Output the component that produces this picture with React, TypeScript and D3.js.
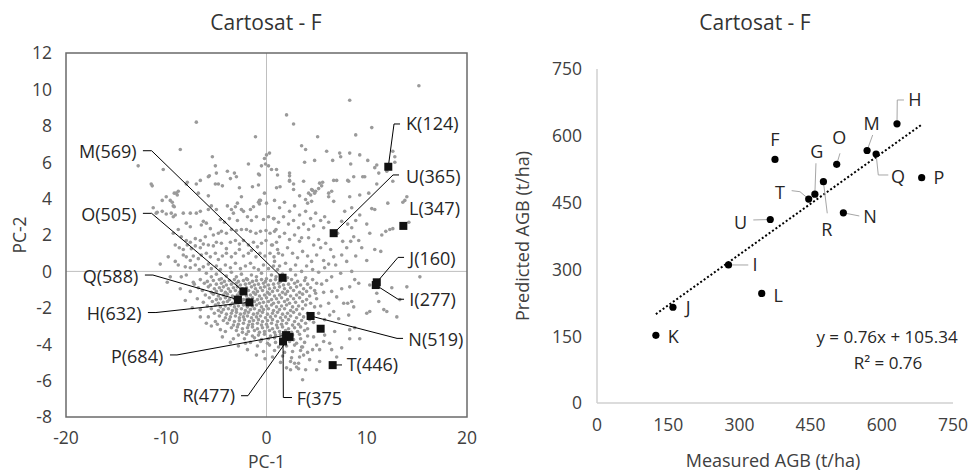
import React, { useEffect, useRef } from "react";
import * as d3 from "d3";

// PC-1 / PC-2 scores of all pixels (grey cloud)
const pcaCloud: [number, number][] = [
  [15.2,10.2],[8.3,9.4],[2.0,8.6],[2.7,8.1],[-7.0,8.2],[10.5,7.9],[8.9,7.5],[-1.1,7.4],[5.1,7.4],
  [-8.6,6.7],[3.5,6.9],[3.9,6.7],[-12.8,5.8],[0.0,6.4],[0.3,6.5],[-0.2,6.2],[-0.1,5.9],[-1.8,5.9],[-5.4,6.3],[-5.1,5.8],
  [3.8,6.0],[4.8,6.1],[6.0,6.6],[6.6,6.1],[7.3,6.5],[7.4,6.3],[8.3,6.5],[8.4,5.9],[9.3,6.4],[10.1,6.1],[11.0,5.85],[10.8,5.7],
  [12.6,6.6],[12.8,6.3],[12.8,6.0],[-10.3,5.6],[0.5,5.6],[0.2,5.8],[1.0,5.6],[1.1,5.3],[2.3,5.4],[2.3,5.0],[-5.0,5.4],[-3.9,5.5],
  [-3.2,5.4],[-0.8,5.35],[-5.7,5.25],[-3.6,5.1],[-0.5,5.8],[-0.7,5.3],[11.2,5.4],[8.7,5.2],[9.8,5.2],[12.0,5.5],[5.6,4.9],[5.3,4.85],
  [7.0,5.0],[8.1,5.0],
  [-11.5,4.8],[-9.2,4.3],[-8.9,4.2],[-8.0,4.8],[-6.6,5.0],[-5.8,5.2],[-5.1,4.8],[-0.8,4.75],[-0.2,4.3],[1.0,4.6],[2.7,4.8],[3.7,4.95],
  [4.5,4.5],[4.9,4.4],[6.2,4.3],[6.5,4.4],[6.7,5.0],[8.2,4.95],[9.6,5.2],[11.0,4.8],[12.6,4.95],[14.0,4.1],[13.8,3.9],
  [-10.0,4.1],[-9.6,3.9],[-9.0,4.3],[-9.4,3.8],[-9.3,3.6],[-11.4,4.7],[-7.9,4.9],[-7.0,4.8],[-3.0,5.2],[-4.8,4.8],[-4.4,4.7],
  [-2.7,4.6],[-2.5,4.1],[-1.4,4.65],[-0.7,3.9],[-0.7,3.7],[-8.8,4.4],[-6.8,4.3],[-5.8,4.15],[-10.4,3.9],
  [1.35,4.65],[2.7,4.5],[3.3,4.15],[4.2,4.3],[4.4,4.2],[4.6,4.45],[4.8,4.3],[5.2,4.55],[5.5,4.7],[3.9,3.95],[4.1,3.75],[4.5,3.85],
  [6.2,4.1],[6.7,3.85],[8.3,4.1],[9.3,4.2],[10.2,4.3],[10.5,3.45],[10.8,3.4],[12.1,3.75],[13.6,3.8],[2.3,5.25],[2.3,4.95],
  [-11.3,3.5],[-10.9,3.25],[-10.4,3.3],[-10.0,3.15],[-9.5,3.2],[-9.3,3.0],[-9.1,3.1],[-9.2,3.55],[-11.0,3.2],[-8.3,3.2],[-7.6,3.2],
  [-7.0,3.2],[-6.6,3.3],[-5.8,3.4],[-5.5,3.6],[-5.0,3.4],[-3.9,3.6],[-3.5,3.4],[-3.1,3.55],[-2.9,3.75],[-2.5,3.4],[-2.3,3.3],
  [-1.6,3.4],[-1.3,3.55],[-0.8,3.8],[-0.6,3.9],[0.0,3.75],[-1.9,3.0],[-1.5,2.8],[-1.0,3.0],[-0.3,2.85],[0.2,3.0],[0.75,2.9],
  [-3.3,3.2],[-3.7,2.9],[-2.9,2.8],[-4.6,2.85],[-4.2,2.7],[-6.3,2.75],[-6.5,2.55],[-6.0,2.65],[-5.6,2.35],[-8.0,2.65],[-7.6,2.45],
  [0.8,3.9],[1.3,3.5],[1.8,3.8],[2.3,3.3],[2.8,3.6],[3.3,3.1],[3.9,3.3],[4.4,2.9],[4.9,3.2],[5.4,2.8],[5.8,3.0],[0.7,2.9],[1.2,2.7],
  [1.7,3.0],[2.2,2.6],[2.7,2.8],[3.2,2.4],[3.7,2.6],[4.2,2.3],[4.7,2.5],[5.7,2.4],[6.2,2.7],[8.1,2.6],[8.5,2.4],[8.9,2.8],[7.5,2.75],
  [7.8,3.3],[8.5,3.5],[9.3,3.1],[10.0,2.6],[14.2,2.7],[12.6,2.35],[12.3,2.3],
  [-8.8,2.3],[-9.3,2.1],[-8.5,1.9],[-8.0,1.7],[-7.6,1.6],[-7.1,1.8],[-6.6,1.7],[-6.1,1.9],[-5.3,2.0],[-4.8,2.1],[-4.5,2.2],[-4.0,2.1],
  [-3.5,2.3],[-3.0,2.25],[-2.5,2.3],[-2.0,2.3],[-1.6,2.2],[-1.05,2.1],[-0.6,2.2],[-0.05,2.25],[0.35,2.1],[0.95,2.3],
  [-9.1,1.45],[-8.7,1.3],[-8.3,1.2],[-7.9,1.45],[-7.5,1.25],[-7.1,1.4],[-6.6,1.3],[-6.3,1.5],[-5.8,1.45],[-5.3,1.4],[-5.0,1.6],
  [-4.5,1.55],[-4.0,1.25],[-3.6,1.6],[-3.1,1.7],[-2.7,1.5],[-2.3,1.7],[-1.8,1.45],[-1.3,1.6],[-0.9,1.35],[-0.5,1.55],[-0.05,1.7],
  [0.5,1.45],[1.0,1.6],
  [-9.8,0.8],[-9.1,0.55],[-8.8,0.35],[-8.3,0.9],[-8.0,0.8],[-7.6,0.6],[-7.3,0.85],[-6.8,0.7],[-6.5,0.9],[-6.0,1.0],[-5.6,0.8],
  [-5.1,1.0],[-4.8,0.65],[-4.4,0.85],[-4.0,1.0],[-3.5,0.8],[-3.1,1.0],[-2.7,1.2],[-2.3,0.85],[-1.8,1.0],[-1.5,1.15],[-1.05,0.8],
  [-0.65,1.0],[-0.15,0.85],[0.35,1.0],[0.75,0.8],[1.2,1.0],
  [0.8,2.2],[1.3,1.9],[1.8,2.1],[2.3,1.75],[2.8,2.0],[3.3,1.65],[3.5,1.85],[4.2,1.85],[4.7,1.45],[5.2,1.75],[5.4,1.3],[5.9,1.55],
  [6.4,1.2],[0.6,1.45],[1.1,1.2],[1.6,0.9],[2.1,1.3],[2.6,1.0],[3.1,0.75],[3.6,1.1],[4.1,0.85],[4.5,0.55],[5.0,0.9],[5.7,0.6],
  [6.2,0.4],[6.7,0.8],[0.8,0.55],[1.9,0.45],[2.9,0.35],[4.0,0.3],[5.8,0.2],[8.7,1.9],[9.2,1.7],[8.4,1.65],[8.0,1.3],[9.5,1.3],
  [8.9,0.85],[8.0,0.55],[7.5,0.9],[7.6,1.65],[7.1,2.1],[10.3,2.1],[6.9,0.35],[11.5,2.0],[11.9,2.2],[11.4,1.1],[10.0,0.6],[10.8,1.2],
  [-8.1,0.25],[-7.6,0.2],[-7.1,0.35],[-6.7,0.1],[-6.3,0.25],[-5.8,0.4],[-5.5,0.15],[-5.0,0.3],[-4.6,0.1],[-4.1,0.35],[-3.6,0.2],
  [-3.1,0.45],[-2.6,0.15],[-2.1,0.3],[-1.6,0.45],[-1.25,0.2],[-0.8,0.1],[-0.3,0.35],[0.2,0.15],[0.7,0.3],[1.1,0.1],
  [-8.5,-0.3],[-8.0,-0.2],[-6.0,-0.1],[-5.5,-0.3],[-5.0,-0.15],[-4.5,-0.4],[-4.0,-0.25],[-3.5,-0.05],[-3.0,-0.3],[-2.5,-0.15],
  [-2.0,-0.4],[-1.5,-0.2],[-1.0,-0.3],[-0.5,-0.1],[0.0,-0.4],[0.5,-0.2],[0.95,-0.3],
  [1.3,0.3],[2.4,0.1],[3.5,0.0],[4.6,0.1],[5.2,-0.05],[1.6,-0.15],[2.1,-0.35],[2.9,-0.2],[3.9,-0.35],[6.5,-0.3],[7.4,-0.1],[8.5,0.0],
  [9.2,-0.65],[8.8,-0.45],[15.3,-0.3],[10.3,-0.75],[-10.6,0.4],[-9.9,-0.6],[-9.6,-0.3],[-8.6,-0.95],[-7.3,-0.6],[-8.1,-1.6],[-7.4,-2.0],
  [-6.6,-0.45],[-5.9,-0.55],[-5.3,-0.5],[-4.7,-0.45],[-4.2,-0.55],[-3.7,-0.5],[-3.2,-0.45],[-2.8,-0.55],[-2.3,-0.5],[-1.9,-0.45],
  [-1.4,-0.55],[-1.0,-0.5],[-0.5,-0.45],[-0.1,-0.55],[0.4,-0.5],[0.9,-0.45],[1.4,-0.55],[1.9,-0.5],[2.5,-0.45],[3.1,-0.55],[3.8,-0.5],[4.6,-0.45],
  [-7.2,-0.7],[-6.2,-0.65],[-5.6,-0.75],[-5.0,-0.7],[-4.5,-0.65],[-4.0,-0.75],[-3.5,-0.7],[-3.0,-0.65],[-2.6,-0.75],[-2.1,-0.7],
  [-1.7,-0.65],[-1.2,-0.75],[-0.8,-0.7],[-0.3,-0.65],[0.2,-0.75],[0.7,-0.7],[1.2,-0.65],[1.7,-0.75],[2.2,-0.7],[2.8,-0.65],[3.4,-0.75],[4.1,-0.7],[5.0,-0.65],
  [-6.8,-0.9],[-5.8,-0.85],[-5.2,-0.95],[-4.7,-0.9],[-4.3,-0.85],[-3.8,-0.95],[-3.3,-0.9],[-2.9,-0.85],[-2.4,-0.95],[-2.0,-0.9],
  [-1.5,-0.85],[-1.1,-0.95],[-0.6,-0.9],[-0.2,-0.85],[0.3,-0.95],[0.8,-0.9],[1.3,-0.85],[1.8,-0.95],[2.4,-0.9],[3.0,-0.85],[3.7,-0.95],[4.4,-0.9],
  [-7.6,-1.1],[-6.4,-1.05],[-5.5,-1.15],[-5.0,-1.1],[-4.5,-1.05],[-4.1,-1.15],[-3.6,-1.1],[-3.1,-1.05],[-2.7,-1.15],[-2.2,-1.1],
  [-1.8,-1.05],[-1.3,-1.15],[-0.9,-1.1],[-0.4,-1.05],[0.1,-1.15],[0.6,-1.1],[1.1,-1.05],[1.6,-1.15],[2.1,-1.1],[2.7,-1.05],[3.3,-1.15],
  [4.0,-1.1],[4.8,-1.05],[5.7,-1.15],
  [-6.1,-1.3],[-5.3,-1.25],[-4.8,-1.35],[-4.3,-1.3],[-3.9,-1.25],[-3.4,-1.35],[-2.9,-1.3],[-2.5,-1.25],[-2.0,-1.35],[-1.6,-1.3],
  [-1.1,-1.25],[-0.7,-1.35],[-0.2,-1.3],[0.3,-1.25],[0.8,-1.35],[1.3,-1.3],[1.9,-1.25],[2.4,-1.35],[3.0,-1.3],[3.6,-1.25],[4.3,-1.35],
  [-6.9,-1.5],[-5.7,-1.45],[-5.0,-1.55],[-4.6,-1.5],[-4.1,-1.45],[-3.7,-1.55],[-3.2,-1.5],[-2.7,-1.45],[-2.3,-1.55],[-1.8,-1.5],
  [-1.4,-1.45],[-0.9,-1.55],[-0.5,-1.5],[0.0,-1.45],[0.5,-1.55],[1.0,-1.5],[1.5,-1.45],[2.1,-1.55],[2.7,-1.5],[3.3,-1.45],[4.0,-1.55],[5.0,-1.5],
  [-6.3,-1.7],[-5.4,-1.65],[-4.8,-1.75],[-4.3,-1.7],[-3.9,-1.65],[-3.4,-1.75],[-3.0,-1.7],[-2.5,-1.65],[-2.1,-1.75],[-1.6,-1.7],
  [-1.2,-1.65],[-0.7,-1.75],[-0.3,-1.7],[0.2,-1.65],[0.7,-1.75],[1.2,-1.7],[1.8,-1.65],[2.3,-1.75],[2.9,-1.7],[3.6,-1.65],[4.4,-1.75],
  [-5.9,-1.9],[-5.1,-1.85],[-4.6,-1.95],[-4.1,-1.9],[-3.6,-1.85],[-3.2,-1.95],[-2.8,-1.9],[-2.3,-1.85],[-1.9,-1.95],[-1.4,-1.9],
  [-1.0,-1.85],[-0.5,-1.95],[0.0,-1.9],[0.5,-1.85],[1.0,-1.95],[1.5,-1.9],[2.0,-1.85],[2.6,-1.95],[3.2,-1.9],[3.9,-1.85],[4.8,-1.95],
  [-6.6,-2.1],[-5.5,-2.05],[-4.8,-2.15],[-4.3,-2.1],[-3.8,-2.05],[-3.4,-2.15],[-3.0,-2.1],[-2.5,-2.05],[-2.1,-2.15],[-1.6,-2.1],
  [-1.2,-2.05],[-0.7,-2.15],[-0.3,-2.1],[0.2,-2.05],[0.7,-2.15],[1.3,-2.1],[1.8,-2.05],[2.4,-2.15],[3.0,-2.1],[3.6,-2.05],
  [-5.2,-2.3],[-4.5,-2.25],[-4.0,-2.35],[-3.5,-2.3],[-3.0,-2.25],[-2.6,-2.35],[-2.2,-2.3],[-1.8,-2.25],[-1.3,-2.35],[-0.9,-2.3],
  [-0.4,-2.25],[0.1,-2.35],[0.6,-2.3],[1.1,-2.25],[1.6,-2.35],[2.1,-2.3],[2.7,-2.25],[3.3,-2.35],[4.1,-2.3],
  [-5.8,-2.5],[-4.7,-2.45],[-4.1,-2.55],[-3.6,-2.5],[-3.1,-2.45],[-2.7,-2.55],[-2.3,-2.5],[-1.9,-2.45],[-1.5,-2.55],[-1.0,-2.5],
  [-0.6,-2.45],[-0.1,-2.55],[0.4,-2.5],[0.9,-2.45],[1.4,-2.55],[1.9,-2.5],[2.4,-2.45],[3.0,-2.55],[3.7,-2.5],
  [-4.3,-2.7],[-3.7,-2.65],[-3.2,-2.75],[-2.7,-2.7],[-2.2,-2.65],[-1.7,-2.75],[-1.3,-2.7],[-0.8,-2.65],[-0.4,-2.75],[0.1,-2.7],
  [0.6,-2.65],[1.1,-2.75],[1.6,-2.7],[2.2,-2.65],[2.8,-2.75],[3.5,-2.7],[4.3,-2.65],
  [-4.9,-2.9],[-3.9,-2.85],[-3.3,-2.95],[-2.8,-2.9],[-2.3,-2.85],[-1.8,-2.95],[-1.4,-2.9],[-0.9,-2.85],[-0.5,-2.95],[0.0,-2.9],
  [0.5,-2.85],[1.0,-2.95],[1.5,-2.9],[2.0,-2.85],[2.6,-2.95],[3.2,-2.9],[3.9,-2.85],
  [-3.5,-3.1],[-2.9,-3.05],[-2.4,-3.15],[-1.9,-3.1],[-1.4,-3.05],[-0.9,-3.15],[-0.4,-3.1],[0.1,-3.05],[0.6,-3.15],[1.1,-3.1],
  [1.6,-3.05],[2.2,-3.15],[2.8,-3.1],[3.4,-3.05],[4.1,-3.15],
  [-4.1,-3.3],[-3.0,-3.25],[-2.4,-3.35],[-1.8,-3.3],[-1.2,-3.25],[-0.7,-3.35],[-0.2,-3.3],[0.3,-3.25],[0.8,-3.35],[1.3,-3.3],
  [1.9,-3.25],[2.5,-3.35],[3.1,-3.3],[3.8,-3.25],
  [-2.8,-3.5],[-2.0,-3.45],[-1.4,-3.55],[-0.8,-3.5],[-0.2,-3.45],[0.4,-3.55],[0.9,-3.5],[1.4,-3.45],[2.6,-3.5],[3.3,-3.45],[4.1,-3.55],
  [-2.2,-3.7],[-1.2,-3.65],[-0.5,-3.75],[0.2,-3.7],[0.8,-3.65],[2.7,-3.75],[3.4,-3.7],
  [-1.6,-3.9],[-0.6,-3.85],[0.1,-3.95],[0.9,-3.9],[2.3,-3.85],[3.0,-3.95],[3.8,-3.9],
  [-0.9,-4.1],[0.3,-4.05],[1.2,-4.15],[2.0,-4.1],[2.8,-4.05],[3.6,-4.15],
  [-0.3,-4.4],[0.8,-4.35],[1.8,-4.45],[2.6,-4.4],[3.4,-4.35],
  [0.6,-4.7],[1.6,-4.65],[2.5,-4.75],[3.3,-4.7],[1.4,-5.0],[2.4,-4.95],[3.2,-5.05],[2.0,-5.3],[3.0,-5.25],
  [4.3,-4.85],[4.1,-4.45],[4.6,-4.3],[3.7,-4.6],[3.5,-4.15],[4.7,-3.6],[5.0,-4.05],[5.3,-4.3],[5.7,-3.85],[5.8,-3.5],[6.3,-3.95],
  [6.8,-3.3],[7.5,-4.2],[8.3,-3.7],[9.3,-3.7],[8.8,-3.1],[8.2,-2.4],[8.5,-1.65],[8.1,-1.75],[10.3,-2.2],[12.0,-2.2],[11.2,-1.65],
  [14.0,-0.85],[13.3,-1.55],[7.5,-0.95],[7.0,-1.4],[7.7,-1.75],[6.5,-1.1],[6.2,-1.75],[6.7,-2.2],[7.2,-2.6],[5.8,-2.65],[6.3,-2.4],
  [8.3,-0.85],[11.0,-1.2],[6.5,-4.3],[7.0,-4.7],[5.3,-4.95],[5.0,-5.4],[3.6,-5.95],[2.8,-5.05],[3.2,-5.35],[3.9,-5.4],[2.4,-5.4],
  [12.5,-0.9],[8.7,-1.95],[10.0,-2.3],[11.7,-2.1],[13.0,-2.5],[8.3,-3.2],[5.2,-2.3],[4.7,-2.8],[5.4,-1.9],[4.9,-1.2],[5.5,-0.7],[6.0,-0.5],
  [-5.5,-3.0],[-4.4,-3.6],[-3.6,-3.9],[-2.8,-4.1],[-1.9,-4.3],[-1.0,-4.6],[-0.15,-4.8],[-6.6,-2.5],[-6.0,-2.85],[-4.6,-3.2],
  [-3.3,-3.7],[-2.1,-3.95],[-5.1,-2.75]
];

// field plots (black squares): PC scores and measured AGB label
const plotNames = ["K", "U", "L", "M", "O", "Q", "H", "P", "R", "F", "J", "I", "N", "T", "G"];
const plotPC1 = [12.15, 6.7, 13.65, 1.6, -2.3, -2.85, -1.7, 1.95, 2.3, 1.65, 11.0, 10.9, 4.4, 6.6, 5.4];
const plotPC2 = [5.75, 2.1, 2.5, -0.35, -1.1, -1.55, -1.7, -3.5, -3.6, -3.85, -0.6, -0.75, -2.45, -5.15, -3.15];
const plotLabels = ["K(124)", "U(365)", "L(347)", "M(569)", "O(505)", "Q(588)", "H(632)", "P(684)", "R(477)", "F(375", "J(160)", "I(277)", "N(519)", "T(446)", ""];

// measured vs predicted AGB (t/ha)
const agbNames = ["H", "M", "Q", "P", "O", "F", "G", "R", "T", "U", "N", "I", "L", "J", "K"];
const measuredAGB = [632, 569, 588, 684, 505, 375, 459, 477, 446, 365, 519, 277, 347, 160, 124];
const predictedAGB = [627, 567, 559, 506, 536, 547, 469, 497, 458, 412, 427, 310, 246, 215, 152];
const trendSlope = 0.76;
const trendIntercept = 105.34;

const pcTicksX = [-20, -10, 0, 10, 20];
const pcTicksY = [-8, -6, -4, -2, 0, 2, 4, 6, 8, 10, 12];
const agbTicks = [0, 150, 300, 450, 600, 750];

// where the data labels sit (in chart units), with leader line bends
type Callout = { tx: number; ty: number; anchor: string; lead: [number, number][] | null };
const leftCallouts: Record<string, Callout> = {
  K: { tx: 13.92, ty: 8.1, anchor: "start", lead: [[13.32, 8.1], [12.72, 8.1]] },
  U: { tx: 13.92, ty: 5.2, anchor: "start", lead: [[13.22, 5.3], [12.62, 5.3]] },
  L: { tx: 14.22, ty: 3.47, anchor: "start", lead: null },
  M: { tx: -12.95, ty: 6.58, anchor: "end", lead: [[-12.33, 6.63], [-11.46, 6.63]] },
  O: { tx: -12.95, ty: 3.1, anchor: "end", lead: [[-12.33, 3.19], [-11.46, 3.19]] },
  Q: { tx: -12.79, ty: -0.29, anchor: "end", lead: [[-12.13, -0.2], [-11.33, -0.2]] },
  H: { tx: -12.46, ty: -2.3, anchor: "end", lead: [[-11.83, -2.26], [-11.03, -2.26]] },
  P: { tx: -10.3, ty: -4.65, anchor: "end", lead: [[-9.63, -4.59], [-8.93, -4.59]] },
  R: { tx: -3.14, ty: -6.83, anchor: "end", lead: [[-2.54, -6.83], [-1.85, -6.83]] },
  F: { tx: 3.01, ty: -6.97, anchor: "start", lead: [[2.54, -6.93], [1.68, -6.93]] },
  J: { tx: 14.25, ty: 0.72, anchor: "start", lead: [[13.72, 0.77], [13.12, 0.77]] },
  I: { tx: 14.25, ty: -1.57, anchor: "start", lead: [[13.72, -1.53], [13.12, -1.53]] },
  N: { tx: 14.15, ty: -3.73, anchor: "start", lead: [[13.62, -3.68], [13.02, -3.68]] },
  T: { tx: 8.0, ty: -5.14, anchor: "start", lead: [[7.53, -5.14], [7.14, -5.14]] },
};
const rightCallouts: Record<string, Callout> = {
  H: { tx: 669.9, ty: 680.4, anchor: "middle", lead: [[646.7, 680.4], [632.6, 680.4]] },
  M: { tx: 578.7, ty: 628.1, anchor: "middle", lead: [[580.8, 601.8]] },
  F: { tx: 375, ty: 590.6, anchor: "middle", lead: null },
  O: { tx: 510.4, ty: 595.1, anchor: "middle", lead: [[511.9, 560.7]] },
  G: { tx: 462.8, ty: 563.7, anchor: "middle", lead: [[461.3, 538.3]] },
  Q: { tx: 634.1, ty: 507.5, anchor: "middle", lead: [[613.7, 512], [592.6, 512]] },
  P: { tx: 720.4, ty: 505.3, anchor: "middle", lead: null },
  T: { tx: 385.5, ty: 471.6, anchor: "middle", lead: [[410.1, 476.8], [427.6, 474.5]] },
  R: { tx: 483.9, ty: 388.5, anchor: "middle", lead: [[485.1, 426]] },
  N: { tx: 575.1, ty: 417.7, anchor: "middle", lead: [[552.6, 420]] },
  U: { tx: 302.7, ty: 404.9, anchor: "middle", lead: [[329.3, 411]] },
  I: { tx: 332.8, ty: 309.9, anchor: "middle", lead: [[318.7, 309.9]] },
  L: { tx: 381.9, ty: 241, anchor: "middle", lead: null },
  J: { tx: 192.3, ty: 213.3, anchor: "middle", lead: null },
  K: { tx: 160.7, ty: 148.9, anchor: "middle", lead: null },
};

const FONT = "'Open Sans', 'Liberation Sans', sans-serif";
const TEXT = "#404040";

export default function App() {
  const ref = useRef<SVGSVGElement>(null);

  useEffect(() => {
    const svg = d3.select(ref.current);
    svg.selectAll("*").remove();
    svg.append("rect").attr("width", 978).attr("height", 475).attr("fill", "#fff");
    drawPca(svg.append("g"));
    drawAgb(svg.append("g"));
  }, []);

  const drawPca = (g: any) => {
    const x = d3.scaleLinear().domain([-20, 20]).range([66, 467]);
    const y = d3.scaleLinear().domain([-8, 12]).range([417, 53]);

    g.append("text").attr("x", 266).attr("y", 30).attr("text-anchor", "middle")
      .attr("font-size", 21).attr("fill", "#333").attr("font-family", FONT).text("Cartosat - F");

    // axis lines through zero
    g.append("line").attr("x1", x(0)).attr("x2", x(0)).attr("y1", y(12)).attr("y2", y(-8))
      .attr("stroke", "#bfbfbf").attr("stroke-width", 1);
    g.append("line").attr("x1", x(-20)).attr("x2", x(20)).attr("y1", y(0)).attr("y2", y(0))
      .attr("stroke", "#bfbfbf").attr("stroke-width", 1);

    g.append("g").selectAll("circle").data(pcaCloud).enter().append("circle")
      .attr("cx", (d: number[]) => x(d[0])).attr("cy", (d: number[]) => y(d[1]))
      .attr("r", 1.8).attr("fill", "#9a9a9a");

    g.append("rect").attr("x", x(-20)).attr("y", y(12)).attr("width", x(20) - x(-20))
      .attr("height", y(-8) - y(12)).attr("fill", "none").attr("stroke", "#6a6a6a").attr("stroke-width", 1.5);

    g.selectAll(".ytick").data(pcTicksY).enter().append("text").attr("class", "ytick")
      .attr("x", 52).attr("y", (d: number) => y(d)).attr("dy", "0.36em").attr("text-anchor", "end")
      .attr("font-size", 17.5).attr("fill", TEXT).attr("font-family", FONT).text((d: number) => d);
    g.selectAll(".xtick").data(pcTicksX).enter().append("text").attr("class", "xtick")
      .attr("x", (d: number) => x(d)).attr("y", 438).attr("dy", "0.36em").attr("text-anchor", "middle")
      .attr("font-size", 17.5).attr("fill", TEXT).attr("font-family", FONT).text((d: number) => d);

    g.append("text").attr("x", 266.5).attr("y", 462).attr("dy", "0.36em").attr("text-anchor", "middle")
      .attr("font-size", 17.5).attr("fill", TEXT).attr("font-family", FONT).text("PC-1");
    g.append("text").attr("transform", "translate(20,235) rotate(-90)").attr("dy", "0.36em")
      .attr("text-anchor", "middle").attr("font-size", 17.5).attr("fill", TEXT).attr("font-family", FONT).text("PC-2");

    const line = d3.line<number[]>().x((d) => x(d[0])).y((d) => y(d[1]));
    plotNames.forEach((name, i) => {
      const c = leftCallouts[name];
      if (!c || !c.lead) return;
      g.append("path").attr("d", line([...c.lead, [plotPC1[i], plotPC2[i]]]))
        .attr("fill", "none").attr("stroke", "#000").attr("stroke-width", 1);
    });

    g.selectAll(".plot").data(plotNames).enter().append("rect").attr("class", "plot")
      .attr("x", (_: string, i: number) => x(plotPC1[i]) - 4).attr("y", (_: string, i: number) => y(plotPC2[i]) - 4)
      .attr("width", 8).attr("height", 8).attr("fill", "#111");

    plotNames.forEach((name, i) => {
      const c = leftCallouts[name];
      if (!c) return;
      g.append("text").attr("x", x(c.tx)).attr("y", y(c.ty)).attr("dy", "0.36em")
        .attr("text-anchor", c.anchor).attr("font-size", 18).attr("fill", "#262626")
        .attr("font-family", FONT).text(plotLabels[i]);
    });
  };

  const drawAgb = (g: any) => {
    const x = d3.scaleLinear().domain([0, 750]).range([597, 953]);
    const y = d3.scaleLinear().domain([0, 750]).range([403, 69]);

    g.append("text").attr("x", 755).attr("y", 30).attr("text-anchor", "middle")
      .attr("font-size", 21).attr("fill", "#333").attr("font-family", FONT).text("Cartosat - F");

    g.append("line").attr("x1", x(0)).attr("x2", x(0)).attr("y1", y(750)).attr("y2", y(0))
      .attr("stroke", "#d0d0d0").attr("stroke-width", 1.5);
    g.append("line").attr("x1", x(0)).attr("x2", x(750)).attr("y1", y(0)).attr("y2", y(0))
      .attr("stroke", "#d0d0d0").attr("stroke-width", 1.5);

    g.selectAll(".ytick").data(agbTicks).enter().append("text").attr("class", "ytick")
      .attr("x", 582).attr("y", (d: number) => y(d)).attr("dy", "0.36em").attr("text-anchor", "end")
      .attr("font-size", 17.5).attr("fill", TEXT).attr("font-family", FONT).text((d: number) => d);
    g.selectAll(".xtick").data(agbTicks).enter().append("text").attr("class", "xtick")
      .attr("x", (d: number) => x(d)).attr("y", 425).attr("dy", "0.36em").attr("text-anchor", "middle")
      .attr("font-size", 17.5).attr("fill", TEXT).attr("font-family", FONT).text((d: number) => d);

    g.append("text").attr("x", 773).attr("y", 461).attr("dy", "0.36em").attr("text-anchor", "middle")
      .attr("font-size", 18).attr("fill", TEXT).attr("font-family", FONT).text("Measured AGB (t/ha)");
    g.append("text").attr("transform", "translate(523,236) rotate(-90)").attr("dy", "0.36em")
      .attr("text-anchor", "middle").attr("font-size", 18).attr("fill", TEXT).attr("font-family", FONT)
      .text("Predicted AGB (t/ha)");

    // linear trendline over the measured range
    const [xMin, xMax] = d3.extent(measuredAGB) as [number, number];
    g.append("line").attr("x1", x(xMin)).attr("y1", y(trendSlope * xMin + trendIntercept))
      .attr("x2", x(xMax)).attr("y2", y(trendSlope * xMax + trendIntercept))
      .attr("stroke", "#000").attr("stroke-width", 2).attr("stroke-dasharray", "2,2.2");

    const line = d3.line<number[]>().x((d) => x(d[0])).y((d) => y(d[1]));
    agbNames.forEach((name, i) => {
      const c = rightCallouts[name];
      if (!c || !c.lead) return;
      g.append("path").attr("d", line([...c.lead, [measuredAGB[i], predictedAGB[i]]]))
        .attr("fill", "none").attr("stroke", "#a6a6a6").attr("stroke-width", 1);
    });

    g.selectAll(".pt").data(agbNames).enter().append("circle").attr("class", "pt")
      .attr("cx", (_: string, i: number) => x(measuredAGB[i])).attr("cy", (_: string, i: number) => y(predictedAGB[i]))
      .attr("r", 3.6).attr("fill", "#000");

    agbNames.forEach((name) => {
      const c = rightCallouts[name];
      g.append("text").attr("x", x(c.tx)).attr("y", y(c.ty)).attr("dy", "0.36em")
        .attr("text-anchor", c.anchor).attr("font-size", 18).attr("fill", "#262626")
        .attr("font-family", FONT).text(name);
    });

    g.append("text").attr("x", 887).attr("y", 337).attr("dy", "0.36em").attr("text-anchor", "middle")
      .attr("font-size", 17).attr("fill", "#262626").attr("font-family", FONT)
      .text(`y = ${trendSlope.toFixed(2)}x + ${trendIntercept.toFixed(2)}`);
    g.append("text").attr("x", 888).attr("y", 363).attr("dy", "0.36em").attr("text-anchor", "middle")
      .attr("font-size", 17).attr("fill", "#262626").attr("font-family", FONT)
      .text("R² = 0.76");
  };

  return (
    <svg ref={ref} width={978} height={475} style={{ position: "absolute", left: 0, top: 0 }} />
  );
}
